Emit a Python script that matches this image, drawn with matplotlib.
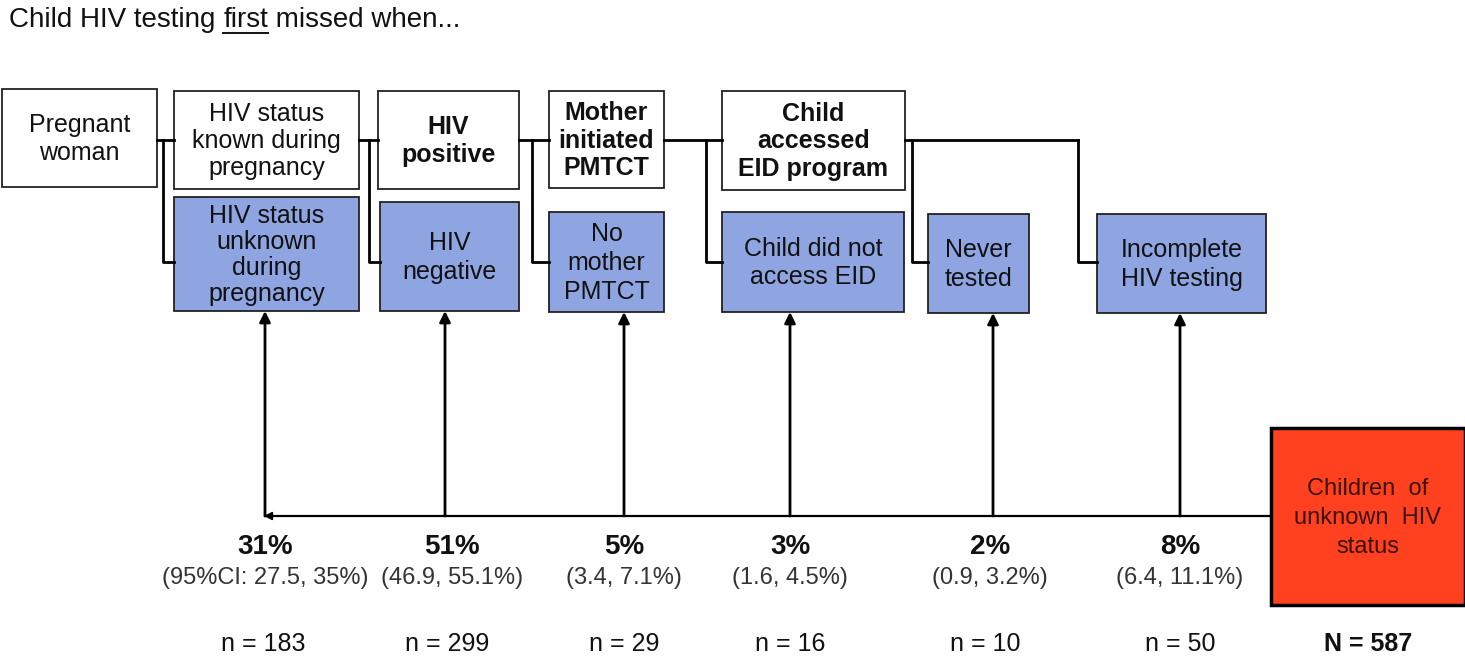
import matplotlib.pyplot as plt
from matplotlib.patches import Rectangle

plt.rcParams['font.family'] = ['Liberation Sans', 'DejaVu Sans']

# === data ===
step_labels = ["Pregnant\nwoman", "HIV status\nknown during\npregnancy", "HIV\npositive",
               "Mother\ninitiated\nPMTCT", "Child\naccessed\nEID program"]
step_bold = [False, False, True, True, True]
missed_labels = ["HIV status\nunknown\nduring\npregnancy", "HIV\nnegative", "No\nmother\nPMTCT",
                 "Child did not\naccess EID", "Never\ntested", "Incomplete\nHIV testing"]
pct = ["31%", "51%", "5%", "3%", "2%", "8%"]
ci = ["(95%CI: 27.5, 35%)", "(46.9, 55.1%)", "(3.4, 7.1%)", "(1.6, 4.5%)", "(0.9, 3.2%)", "(6.4, 11.1%)"]
n_counts = [183, 299, 29, 16, 10, 50]
total_n = 587

# === layout (pixel coordinates) ===
top_x = [(2, 157), (174, 359), (378, 519), (549, 664), (722, 905)]
top_y = [(89, 187), (91, 189), (91, 189), (91, 188), (91, 190)]
bot_x = [(174, 359), (380, 519), (549, 664), (722, 904), (928, 1029), (1097, 1266)]
bot_y = [(197, 311), (202, 311), (212, 312), (212, 312), (214, 313), (214, 313)]
arrow_x = [265, 445, 624, 790, 993, 1180]
label_x = [265, 452, 624, 790, 990, 1180]
n_x = [263, 447, 624, 790, 985, 1180]

blue = "#8fa5e2"
red = "#ff4120"

fig = plt.figure(figsize=(14.65, 6.61), dpi=100)
ax = fig.add_axes([0, 0, 1, 1])
ax.set_xlim(0, 1465)
ax.set_ylim(661, 0)
ax.axis("off")

# title with underlined "first"
fig.canvas.draw()
r = fig.canvas.get_renderer()
x = 9
for part, ul in [("Child HIV testing ", False), ("first", True), (" missed when...", False)]:
    t = ax.text(x, 20, part, fontsize=20, va="center", ha="left", color="#111111")
    bb = t.get_window_extent(r).transformed(ax.transData.inverted())
    if ul:
        ax.plot([bb.x0, bb.x1], [33, 33], color="#111111", lw=1.4)
    x = bb.x1

# top (white) boxes
for (x0, x1), (y0, y1), lab, b in zip(top_x, top_y, step_labels, step_bold):
    ax.add_patch(Rectangle((x0, y0), x1 - x0, y1 - y0, facecolor="white", edgecolor="#222222", lw=1.3))
    ax.text((x0 + x1) / 2, (y0 + y1) / 2 + 1, lab, ha="center", va="center", fontsize=18,
            fontweight="bold" if b else "normal", linespacing=1.18, color="#111111")

# bottom (blue) boxes
for (x0, x1), (y0, y1), lab in zip(bot_x, bot_y, missed_labels):
    ax.add_patch(Rectangle((x0, y0), x1 - x0, y1 - y0, facecolor=blue, edgecolor="#222222", lw=1.3))
    ax.text((x0 + x1) / 2, (y0 + y1) / 2 + 1, lab, ha="center", va="center", fontsize=18,
            linespacing=1.12 if lab.count("\n") > 2 else 1.25, color="#111111")

# connectors
lk = dict(color="black", lw=2.0, solid_capstyle="projecting")
yt, yb = 140, 262
for i, jx in enumerate([163, 369, 532, 706]):
    ax.plot([top_x[i][1], top_x[i + 1][0]], [yt, yt], **lk)
    ax.plot([jx, jx, bot_x[i][0]], [yt, yb, yb], **lk)
ax.plot([top_x[4][1], 1078], [yt, yt], **lk)
ax.plot([912, 912, bot_x[4][0]], [yt, yb, yb], **lk)
ax.plot([1078, 1078, bot_x[5][0]], [yt, yb, yb], **lk)

# bottom horizontal line and arrows
yl = 516
ax.plot([arrow_x[0], 1271], [yl, yl], color="black", lw=1.6)
ax.annotate("", xy=(arrow_x[0] - 4, yl), xytext=(arrow_x[0] + 8, yl),
            arrowprops=dict(arrowstyle="-|>", color="black", lw=1.2, mutation_scale=12))
for ax_x, (y0, y1) in zip(arrow_x, bot_y):
    ax.annotate("", xy=(ax_x, y1), xytext=(ax_x, yl),
                arrowprops=dict(arrowstyle="-|>", color="black", lw=2.0, mutation_scale=16,
                                shrinkA=0, shrinkB=0))

# red box
ax.add_patch(Rectangle((1271, 428), 194, 177, facecolor=red, edgecolor="black", lw=2.5))
ax.text(1368, 518, "Children  of\nunknown  HIV\nstatus", ha="center", va="center", fontsize=17,
        linespacing=1.4, color="#3a1208")

# percentages, CIs and counts
for lx, nx, p, c, n in zip(label_x, n_x, pct, ci, n_counts):
    ax.text(lx, 547, p, ha="center", va="center", fontsize=20, fontweight="bold", color="#111111")
    ax.text(lx, 578, c, ha="center", va="center", fontsize=17, color="#333333")
    ax.text(nx, 644, f"n = {n}", ha="center", va="center", fontsize=18, color="#111111")
ax.text(1368, 644, f"N = {total_n}", ha="center", va="center", fontsize=18, fontweight="bold",
        color="#111111")

fig.savefig("out.png", dpi=100)
